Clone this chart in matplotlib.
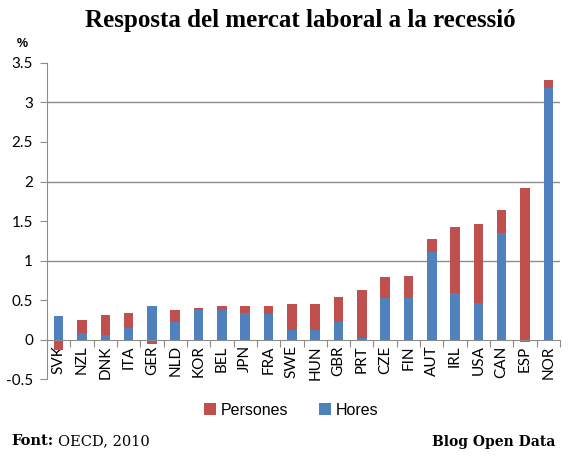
import numpy as np
import matplotlib
matplotlib.use("Agg")
import matplotlib.pyplot as plt

# OECD labour market response to the recession (%)
countries = ["SVK", "NZL", "DNK", "ITA", "GER", "NLD", "KOR", "BEL", "JPN", "FRA", "SWE",
             "HUN", "GBR", "PRT", "CZE", "FIN", "AUT", "IRL", "USA", "CAN", "ESP", "NOR"]
hores = [0.30, 0.08, 0.06, 0.15, 0.43, 0.23, 0.38, 0.37, 0.34, 0.33, 0.12,
         0.12, 0.22, 0.02, 0.53, 0.53, 1.11, 0.59, 0.46, 1.35, -0.03, 3.18]
persones = [-0.13, 0.17, 0.25, 0.19, -0.06, 0.15, 0.02, 0.06, 0.09, 0.10, 0.33,
            0.33, 0.32, 0.61, 0.26, 0.28, 0.16, 0.83, 1.00, 0.29, 1.92, 0.10]
yticks = [-0.5, 0, 0.5, 1, 1.5, 2, 2.5, 3, 3.5]
ytick_labels = ["-0.5", "0", "0.5", "1", "1.5", "2", "2.5", "3", "3.5"]

red = "#C0504D"
blue = "#4F81BD"
gray = "#8C8C8C"

hores = np.array(hores)
persones = np.array(persones)
x = np.arange(len(countries))
# red segment sits on top of blue when same sign, otherwise starts at zero
bottom = np.where(np.sign(persones) == np.sign(hores), hores, 0)

fig = plt.figure(figsize=(5.77, 4.62), dpi=100)
ax = fig.add_axes([0.0815, 0.179, 0.889, 0.685])

for g in [1, 2, 3]:
    ax.axhline(g, color=gray, lw=1, zorder=0)

ax.bar(x, hores, width=0.41, color=blue, label="Hores", zorder=2)
ax.bar(x, persones, width=0.41, bottom=bottom, color=red, label="Persones", zorder=2)

ax.set_xlim(-0.5, len(countries) - 0.5)
ax.set_ylim(-0.5, 3.5)
ax.set_yticks(yticks)
ax.set_yticklabels(ytick_labels, fontsize=11, family="Lato")
ax.tick_params(axis="y", length=5, color=gray, pad=5)

ax.spines["top"].set_visible(False)
ax.spines["right"].set_visible(False)
ax.spines["left"].set_color(gray)
ax.spines["bottom"].set_color(gray)
ax.spines["bottom"].set_position(("data", 0))

ax.set_xticks(np.arange(len(countries) + 1) - 0.5)
ax.set_xticklabels([])
ax.tick_params(axis="x", which="major", length=5, color=gray, direction="out")
ax.set_xticks(x, minor=True)
ax.set_xticklabels(countries, minor=True, rotation=90, fontsize=11, family="Lato")
ax.tick_params(axis="x", which="minor", length=0, pad=4)

fig.text(0.52, 0.955, "Resposta del mercat laboral a la recessió", ha="center", va="center",
         fontsize=18, fontweight="bold", family="Liberation Serif")
fig.text(0.038, 0.905, "%", ha="center", va="center", fontsize=9, fontweight="bold",
         family="Liberation Sans")

handles, labels = ax.get_legend_handles_labels()
fig.legend(handles[::-1], labels[::-1], loc="center", bbox_to_anchor=(0.505, 0.112), ncol=2,
           frameon=False, prop={"family": "Liberation Sans", "size": 11.5},
           handlelength=0.75, handleheight=0.75, handletextpad=0.3, columnspacing=1.9)

fig.text(0.019, 0.037, "Font:", ha="left", va="baseline", fontsize=10.5, fontweight="bold",
         family="DejaVu Serif")
fig.text(0.1, 0.037, "OECD, 2010", ha="left", va="baseline", fontsize=10.5,
         family="DejaVu Serif")
fig.text(0.962, 0.035, "Blog Open Data", ha="right", va="baseline", fontsize=10,
         fontweight="bold", family="DejaVu Serif")

fig.savefig("out.png", dpi=100)
